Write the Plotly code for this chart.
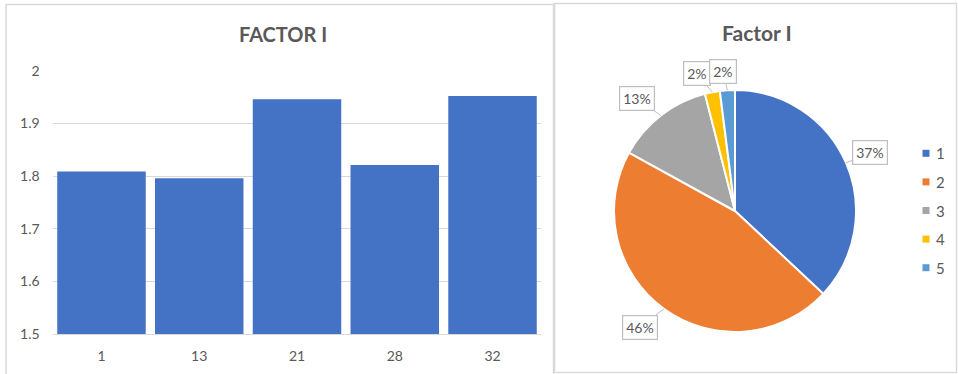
import math
import plotly.graph_objects as go

# ---- bar chart data ----
samples = ["1", "13", "21", "28", "32"]
factor_values = [1.809, 1.796, 1.946, 1.821, 1.952]
y_range = [1.5, 2.0]

# ---- pie chart data ----
groups = ["1", "2", "3", "4", "5"]
group_shares = [37, 46, 13, 2, 2]
group_colors = ["#4472C4", "#ED7D31", "#A5A5A5", "#FFC000", "#5B9BD5"]

W, H = 958, 374
FONT = "Lato"
TEXT = "#595959"
GRID = "#D9D9D9"
BORDER = "#D9D9D9"
BAR_COLOR = "#4472C4"


def px(x):
    """pixel x -> paper x"""
    return x / W


def py(y):
    """pixel y (from top) -> paper y"""
    return 1 - y / H


fig = go.Figure()

# ---- left: bar chart ----
fig.add_trace(go.Bar(
    x=samples, y=factor_values,
    marker=dict(color=BAR_COLOR, line_width=0),
    xaxis="x", yaxis="y", showlegend=False,
))

# ---- right: pie chart ----
pie_cx, pie_cy, pie_r = 735, 211, 121
fig.add_trace(go.Pie(
    labels=groups, values=group_shares,
    sort=False, direction="clockwise", rotation=0,
    marker=dict(colors=group_colors, line=dict(color="white", width=2)),
    textinfo="none", showlegend=False, automargin=False,
    domain=dict(x=[px(pie_cx - pie_r), px(pie_cx + pie_r)],
                y=[py(pie_cy + pie_r), py(pie_cy - pie_r)]),
))

# callout labels for the pie slices
label_dist = [147, 150, 149, 142, 140]   # radial distance of each callout box
label_side = [0, 9, -9, -12, -3]         # tangential nudge to keep boxes apart
total = sum(group_shares)
cum = 0
for share, dist, side in zip(group_shares, label_dist, label_side):
    mid = (cum + share / 2) / total * 2 * math.pi
    cum += share
    dx, dy = math.sin(mid), -math.cos(mid)
    tx, ty = math.cos(mid), math.sin(mid)
    tip_x, tip_y = pie_cx + pie_r * dx, pie_cy + pie_r * dy
    box_x = pie_cx + dist * dx + side * tx
    box_y = pie_cy + dist * dy + side * ty
    fig.add_annotation(
        x=px(tip_x), y=py(tip_y), xref="paper", yref="paper",
        text=f"{round(100 * share / total)}%",
        showarrow=True, arrowhead=0, arrowwidth=1, arrowcolor="#BFBFBF",
        ax=box_x - tip_x, ay=box_y - tip_y,
        bordercolor="#BFBFBF", borderwidth=1.2, borderpad=3, bgcolor="white",
        font=dict(family=FONT, size=14, color=TEXT),
    )

# legend for the pie
legend_x, legend_y0, legend_step = 926, 153.3, 28.6
for i, (g, c) in enumerate(zip(groups, group_colors)):
    yc = legend_y0 + i * legend_step
    fig.add_shape(type="rect", xref="paper", yref="paper",
                  x0=px(legend_x - 3.5), x1=px(legend_x + 3.5),
                  y0=py(yc + 3.5), y1=py(yc - 3.5),
                  fillcolor=c, line_width=0)
    fig.add_annotation(x=px(934), y=py(yc), xref="paper", yref="paper",
                       text=g, showarrow=False, xanchor="left", yanchor="middle",
                       font=dict(family=FONT, size=15, color=TEXT))

# titles
fig.add_annotation(x=px(283), y=py(34), xref="paper", yref="paper",
                   text="FACTOR I", showarrow=False,
                   xanchor="center", yanchor="middle",
                   font=dict(family=FONT, size=20, color=TEXT, weight=700))
fig.add_annotation(x=px(757), y=py(32), xref="paper", yref="paper",
                   text="Factor I", showarrow=False,
                   xanchor="center", yanchor="middle",
                   font=dict(family=FONT, size=21, color=TEXT, weight=700))

# panel borders
fig.add_shape(type="rect", xref="paper", yref="paper",
              x0=px(6), x1=px(553.5), y0=py(390), y1=py(4.5),
              line=dict(color=BORDER, width=1.5), fillcolor="rgba(0,0,0,0)")
fig.add_shape(type="rect", xref="paper", yref="paper",
              x0=px(554.5), x1=px(956.5), y0=py(372.5), y1=py(3.5),
              line=dict(color=BORDER, width=1.5), fillcolor="rgba(0,0,0,0)")

fig.update_layout(
    width=W, height=H,
    margin=dict(l=0, r=0, t=0, b=0, pad=0, autoexpand=False),
    paper_bgcolor="white", plot_bgcolor="white",
    bargap=0.095,
    font=dict(family=FONT, color=TEXT),
    xaxis=dict(
        domain=[px(52.6), px(541.4)], type="category",
        showgrid=False, zeroline=False, automargin=False,
        showline=True, linecolor=GRID, linewidth=1,
        ticks="", ticklabelstandoff=9,
        tickfont=dict(family=FONT, size=14, color=TEXT),
        fixedrange=True,
    ),
    yaxis=dict(
        domain=[py(334.3), py(70.7)], range=y_range,
        dtick=0.1, tick0=1.5, tickformat=".1~f",
        showgrid=True, gridcolor=GRID, gridwidth=1,
        zeroline=False, showline=False, ticks="", automargin=False,
        ticklabelstandoff=12,
        tickfont=dict(family=FONT, size=14, color=TEXT),
        fixedrange=True,
    ),
    hovermode="closest",
)

fig.write_html("out.html")
